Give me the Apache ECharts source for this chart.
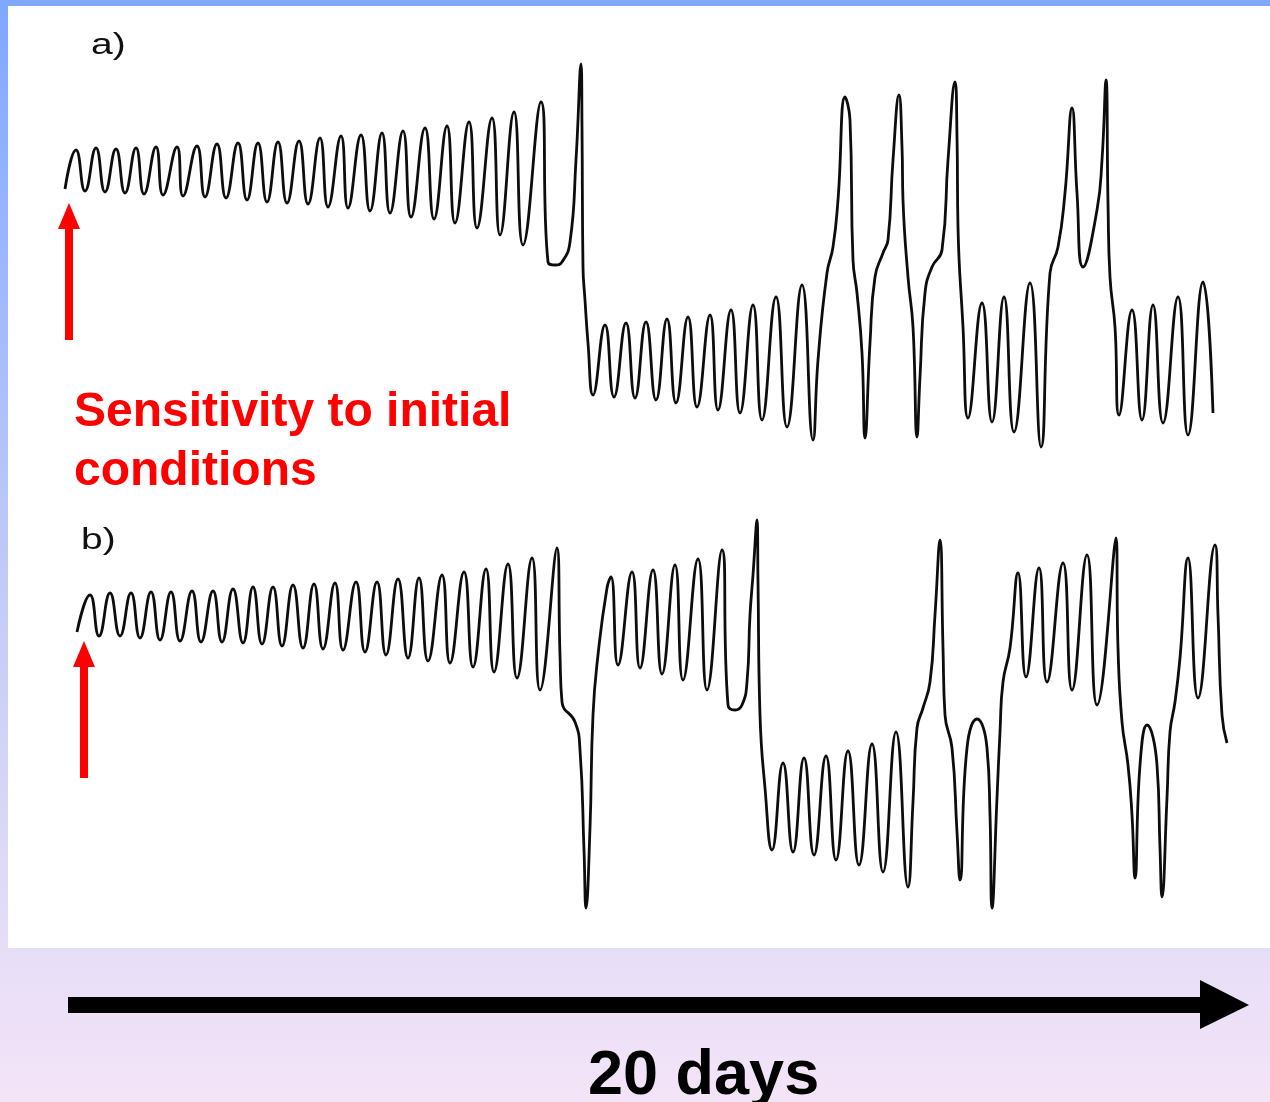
<!DOCTYPE html>
<html>
<head>
<meta charset="utf-8">
<title>Sensitivity to initial conditions</title>
<script src="https://cdn.jsdelivr.net/npm/echarts@6/dist/echarts.min.js"></script>
<style>
  html, body { margin: 0; padding: 0; }
  #chart { width: 1270px; height: 1102px; }
</style>
</head>
<body>
<div id="chart"></div>
<script>
// Run (a): [time step, amplitude] at the turning points of the trace
const traceA = [
  [5,261],[16,300],[25,259],[36,302],[45,258],[56,301],[65,257],[76,302],[84,256],[96,303],
  [103,255],[117,303],[123,254],[137,304],[145,253],[157,306],[166,252],[178,307],[187,250],[198,307],
  [207,248],[218,308],[227,247],[239,309],[248,246],[260,312],[268,243],[281,314],[288,242],[301,315],
  [310,239],[322,317],[330,237],[343,319],[351,233],[365,322],[374,231],[387,324],[395,227],[409,328],
  [417,222],[432,332],[440,215],[454,338],[463,205],[481,348],
  [488,188],[495,185],[502,188],[510,208],[516,290],[521,386],
  [522,323],[523,183],[525,150],[528,107],[533,55],
  [545,125],[554,53],[566,127],[575,52],[586,128],[596,50],[607,131],[616,47],[628,133],[637,43],
  [650,135],[658,40],[671,140],[680,37],[693,145],[702,30],[716,153],[727,23],[742,165],[753,10],
  [758,90],[767,177],[773,203],[778,250],[785,353],
  [790,330],[793,190],[797,157],[802,97],[805,12],
  [810,107],[815,173],[823,197],[828,210],[833,290],[839,355],
  [842,303],[843,250],[848,173],[853,123],[857,13],
  [860,73],[865,157],[872,183],[882,200],[888,290],[895,368],
  [897,313],[898,223],[903,123],[908,32],
  [922,147],[932,28],[944,153],[954,18],[970,167],[981,3],
  [990,177],[998,203],[1005,257],[1012,342],
  [1017,257],[1023,183],[1037,240],[1042,290],[1046,370],
  [1048,247],[1050,173],[1055,123],[1059,35],
  [1072,140],[1082,30],[1093,145],[1103,27],[1118,153],[1128,15],[1143,168],[1153,37]
];

// Run (b): same model, slightly different start
const traceB = [
  [17,283],[30,320],[39,279],[50,322],[60,279],[71,322],[80,277],[91,323],[100,275],[111,323],
  [120,274],[132,324],[141,273],[153,324],[162,273],[173,326],[183,272],[193,328],[202,271],[213,328],
  [222,269],[233,330],[243,267],[254,331],[263,266],[275,332],[283,265],[296,333],[305,263],[317,333],
  [326,260],[338,336],[348,257],[359,337],[368,254],[382,340],[390,252],[404,343],[413,248],[426,346],
  [434,243],[448,351],[457,237],[472,357],[480,225],[497,367],
  [500,260],[502,213],[515,193],[520,165],[524,65],[526,7],
  [530,87],[533,200],[538,260],[547,327],[551,338],
  [558,250],[572,343],[580,247],[593,345],[602,241],[615,350],[623,235],[638,356],[647,225],[662,365],
  [668,210],[675,205],[682,210],[687,233],[690,300],[693,340],[697,395],
  [698,333],[700,200],[705,127],[712,65],
  [723,152],[733,63],[744,157],[754,60],[766,159],[776,55],[788,164],[799,50],[812,171],[823,43],
  [836,183],[848,28],
  [853,113],[857,187],[863,207],[870,233],[875,300],[880,375],
  [883,267],[885,200],[892,167],[897,83],[900,35],
  [907,167],[917,196],[927,167],[930,100],[932,7],
  [937,117],[940,183],[943,233],[950,267],[958,342],
  [966,238],[979,347],[987,233],[1003,352],[1012,225],[1027,360],[1037,210],[1056,377],
  [1058,267],[1062,193],[1068,150],[1072,100],[1075,37],
  [1080,150],[1087,190],[1097,150],[1100,67],[1102,18],
  [1107,117],[1110,183],[1115,213],[1120,257],[1128,357],
  [1138,217],[1155,370],
  [1158,300],[1162,200],[1167,172]
];

const panelLabels = ['a)', 'b)'];
const captionLines = ['Sensitivity to initial', 'conditions'];
const timeLabel = '20 days';

const chart = echarts.init(document.getElementById('chart'), null, { renderer: 'canvas' });

const traceStyle = { color: '#0d0d0d', width: 2.8 };
const labelFont = '30px "Liberation Sans", Arial, sans-serif';
const captionFont = 'bold 48px "Liberation Sans", Arial, sans-serif';

const option = {
  animation: false,
  backgroundColor: {
    type: 'linear', x: 0, y: 0, x2: 0, y2: 1,
    colorStops: [
      { offset: 0, color: '#7FA7FF' },
      { offset: 0.45, color: '#B9C6F8' },
      { offset: 0.86, color: '#E6DEF7' },
      { offset: 1, color: '#F4E4F8' }
    ]
  },
  grid: [
    { left: 60, top: 60, width: 1170, height: 390 },
    { left: 60, top: 515, width: 1170, height: 400 }
  ],
  xAxis: [
    { type: 'value', gridIndex: 0, min: 0, max: 1170, show: false },
    { type: 'value', gridIndex: 1, min: 0, max: 1170, show: false }
  ],
  yAxis: [
    { type: 'value', gridIndex: 0, min: 0, max: 390, show: false },
    { type: 'value', gridIndex: 1, min: 0, max: 400, show: false }
  ],
  series: [
    {
      name: 'a', type: 'line', xAxisIndex: 0, yAxisIndex: 0,
      data: traceA, showSymbol: false, smooth: 0.5,
      lineStyle: traceStyle, z: 5
    },
    {
      name: 'b', type: 'line', xAxisIndex: 1, yAxisIndex: 1,
      data: traceB, showSymbol: false, smooth: 0.5,
      lineStyle: traceStyle, z: 5
    }
  ],
  graphic: [
    // white figure panel
    { type: 'rect', z: -10, shape: { x: 8, y: 6, width: 1262, height: 942 }, style: { fill: '#FFFFFF' } },
    // panel labels
    { type: 'text', x: 91, y: 31, scaleX: 1.3, style: { text: panelLabels[0], font: labelFont, fill: '#111' } },
    { type: 'text', x: 81, y: 526, scaleX: 1.3, style: { text: panelLabels[1], font: labelFont, fill: '#111' } },
    // caption
    { type: 'text', x: 74, y: 389, style: { text: captionLines[0], font: captionFont, fill: '#FF0000' } },
    { type: 'text', x: 74, y: 448, style: { text: captionLines[1], font: captionFont, fill: '#FF0000' } },
    // red start arrows
    { type: 'rect', shape: { x: 65, y: 226, width: 8, height: 114 }, style: { fill: '#FF0000' } },
    { type: 'polygon', shape: { points: [[69, 203], [58, 229], [80, 229]] }, style: { fill: '#FF0000' } },
    { type: 'rect', shape: { x: 80, y: 664, width: 8, height: 114 }, style: { fill: '#FF0000' } },
    { type: 'polygon', shape: { points: [[84, 641], [73, 667], [95, 667]] }, style: { fill: '#FF0000' } },
    // time arrow
    { type: 'rect', shape: { x: 68, y: 997, width: 1134, height: 16 }, style: { fill: '#000' } },
    { type: 'polygon', shape: { points: [[1200, 980], [1249, 1005], [1200, 1029]] }, style: { fill: '#000' } },
    { type: 'text', x: 588, y: 1045, style: { text: timeLabel, font: 'bold 63px "Liberation Sans", Arial, sans-serif', fill: '#000' } }
  ]
};

chart.setOption(option);
</script>
</body>
</html>
